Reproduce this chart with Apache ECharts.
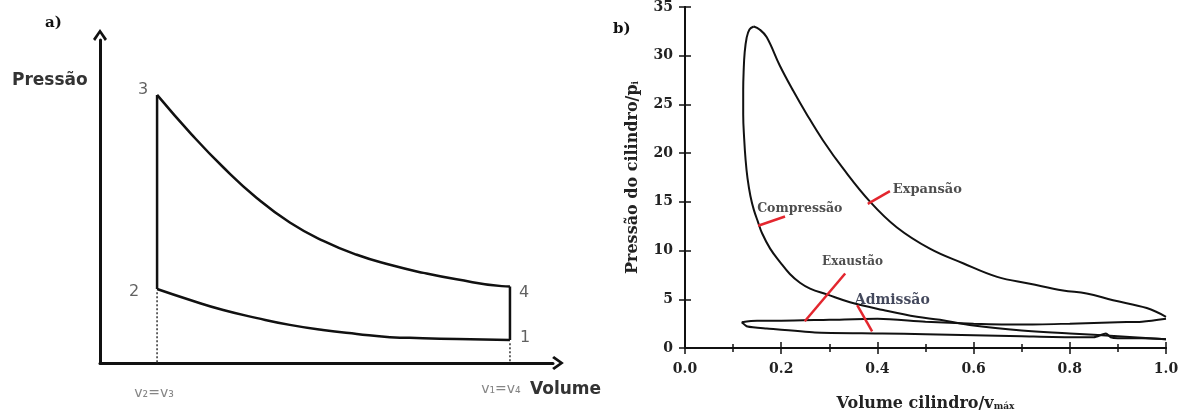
<!DOCTYPE html>
<html lang="pt">
<head>
<meta charset="UTF-8">
<title>Ciclo Otto</title>
<style>
  html, body { margin: 0; padding: 0; background: #fff; }
  #chart { width: 1189px; height: 417px; }
</style>
</head>
<body>
<div id="chart"></div>
<script src="https://cdn.jsdelivr.net/npm/echarts@6/dist/echarts.min.js"></script>
<script>
// ---- a) ideal cycle (arbitrary units, 0-100 on both axes)
var idealExpV = [12.6, 20.2, 27.2, 34.6, 41.9, 49.3, 56.7, 64.0, 71.4, 78.7, 88.7, 90.5];
var idealExpP = [83.0, 70.8, 60.6, 51.1, 43.5, 37.8, 33.5, 30.4, 27.9, 25.9, 23.8, 23.7];
var idealCompV = [12.6, 19.9, 27.2, 34.7, 41.9, 49.2, 56.7, 64.0, 71.3, 78.8, 90.5];
var idealCompP = [22.9, 19.5, 16.4, 13.9, 11.8, 10.2, 9.0, 8.0, 7.7, 7.4, 7.1];
var cornerNames = ['1', '2', '3', '4'];
var cornerV = [90.5, 12.6, 12.6, 90.5];
var cornerP = [7.1, 22.9, 83.0, 23.7];
var volNames = ['v\u2082=v\u2083', 'v\u2081=v\u2084'];
var volV = [12.6, 90.5];

// ---- b) measured cycle (v / vmax, p / pi)
var expV = [0.143, 0.155, 0.170, 0.197, 0.225, 0.253, 0.287, 0.329, 0.385, 0.44, 0.509, 0.578, 0.649, 0.717, 0.786, 0.835, 0.89, 0.96, 1.0];
var expP = [33.0, 32.7, 31.9, 29.0, 26.4, 24.0, 21.3, 18.4, 15.0, 12.4, 10.2, 8.7, 7.3, 6.6, 5.9, 5.6, 4.9, 4.1, 3.2];
var exhV = [1.0, 0.95, 0.9, 0.8, 0.7, 0.6, 0.5, 0.4, 0.3, 0.2, 0.15, 0.118];
var exhP = [3.0, 2.7, 2.65, 2.5, 2.4, 2.5, 2.7, 3.0, 2.9, 2.8, 2.8, 2.65];
var admV = [0.118, 0.13, 0.17, 0.27, 0.41, 0.5, 0.6, 0.7, 0.8, 0.85, 0.875, 0.885, 0.9, 0.95, 1.0];
var admP = [2.65, 2.2, 2.0, 1.6, 1.5, 1.4, 1.3, 1.2, 1.1, 1.1, 1.5, 1.1, 1.0, 1.0, 0.9];
var compV = [1.0, 0.9, 0.8, 0.7, 0.6, 0.53, 0.482, 0.412, 0.343, 0.295, 0.26, 0.239, 0.218, 0.198, 0.177, 0.16, 0.152, 0.143, 0.136, 0.13, 0.126, 0.123, 0.121, 0.121, 0.122, 0.124, 0.128, 0.134, 0.143];
var compP = [0.9, 1.2, 1.5, 1.8, 2.3, 2.9, 3.2, 3.9, 4.7, 5.5, 6.1, 6.7, 7.6, 8.8, 10.2, 11.8, 12.9, 14.2, 15.6, 17.4, 19.3, 21.5, 24.0, 26.5, 28.5, 30.3, 31.8, 32.7, 33.0];

var noteNames = ['Compress\u00e3o', 'Expans\u00e3o', 'Exaust\u00e3o', 'Admiss\u00e3o'];
var noteV = [0.150, 0.432, 0.285, 0.353];
var noteP = [14.3, 16.3, 8.8, 4.9];
var leaderFrom = [[0.152, 12.55], [0.380, 14.8], [0.249, 2.75], [0.358, 4.4]];
var leaderTo = [[0.208, 13.5], [0.426, 16.1], [0.333, 7.65], [0.389, 1.7]];

function zip(a, b) {
    return a.map(function (v, i) { return [v, b[i]]; });
}

var serif = 'DejaVu Serif';
var chevron = 'path://M5,0 L10,7 L8.5,8.4 L5,3.2 L1.5,8.4 L0,7 Z';

var chart = echarts.init(document.getElementById('chart'));

var lineA = { color: '#111', width: 2.5 };
var lineB = { color: '#111', width: 2 };
var dashA = { color: '#555', width: 1.8, type: [2, 2] };

var bAxisLine = { show: true, lineStyle: { color: '#111', width: 2 } };
var bTick = { inside: true, length: 6, lineStyle: { color: '#111', width: 1.5 } };
var bMinor = { show: true, splitNumber: 2, length: 4, lineStyle: { color: '#111', width: 1.5 } };

option = {
    animation: false,
    backgroundColor: '#fff',
    grid: [
        { left: 100, top: 40, width: 453, height: 323 },
        { left: 685, top: 5, width: 481, height: 343 }
    ],
    xAxis: [
        {
            gridIndex: 0, type: 'value', min: 0, max: 100,
            axisLine: { show: true, symbol: ['none', chevron], symbolSize: [14, 12], symbolOffset: [0, 5], lineStyle: { color: '#111', width: 3 } },
            axisTick: { show: false }, axisLabel: { show: false }, splitLine: { show: false }
        },
        {
            gridIndex: 1, type: 'value', min: 0, max: 1, interval: 0.2,
            axisLine: bAxisLine, axisTick: bTick, minorTick: bMinor,
            axisLabel: {
                margin: 14, color: '#222', fontFamily: serif, fontWeight: 'bold', fontSize: 14,
                formatter: function (v) { return v.toFixed(1); }
            },
            splitLine: { show: false },
            name: 'Volume cilindro/v{s|m\u00e1x}',
            nameLocation: 'middle', nameGap: 48,
            nameTextStyle: {
                color: '#222', fontFamily: serif, fontWeight: 'bold', fontSize: 16,
                rich: { s: { fontFamily: serif, fontWeight: 'bold', fontSize: 9, color: '#222', padding: [6, 0, 0, 0] } }
            }
        },
        {
            gridIndex: 1, type: 'value', min: 0, max: 1, interval: 0.2, position: 'top',
            axisLine: bAxisLine, axisTick: bTick, minorTick: bMinor,
            axisLabel: { show: false }, splitLine: { show: false }
        }
    ],
    yAxis: [
        {
            gridIndex: 0, type: 'value', min: 0, max: 100,
            axisLine: { show: true, symbol: ['none', chevron], symbolSize: [14, 12], symbolOffset: [0, 5], lineStyle: { color: '#111', width: 3 } },
            axisTick: { show: false }, axisLabel: { show: false }, splitLine: { show: false }
        },
        {
            gridIndex: 1, type: 'value', min: 0, max: 35, interval: 5,
            axisLine: bAxisLine, axisTick: bTick,
            axisLabel: { margin: 12, color: '#222', fontFamily: serif, fontWeight: 'bold', fontSize: 14 },
            splitLine: { show: false },
            name: 'Press\u00e3o do cilindro/p{s|i}',
            nameLocation: 'middle', nameGap: 44,
            nameTextStyle: {
                color: '#222', fontFamily: serif, fontWeight: 'bold', fontSize: 16,
                rich: { s: { fontFamily: serif, fontWeight: 'bold', fontSize: 9, color: '#222', padding: [6, 0, 0, 0] } }
            }
        },
        {
            gridIndex: 1, type: 'value', min: 0, max: 35, interval: 5, position: 'right',
            axisLine: bAxisLine, axisTick: bTick,
            axisLabel: { show: false }, splitLine: { show: false }
        }
    ],
    series: [
        // a)
        { type: 'line', xAxisIndex: 0, yAxisIndex: 0, data: zip(idealExpV, idealExpP), smooth: 0.5, showSymbol: false, lineStyle: lineA },
        { type: 'line', xAxisIndex: 0, yAxisIndex: 0, data: zip(idealCompV, idealCompP), smooth: 0.5, showSymbol: false, lineStyle: lineA },
        { type: 'line', xAxisIndex: 0, yAxisIndex: 0, data: [[cornerV[1], cornerP[1]], [cornerV[2], cornerP[2]]], showSymbol: false, lineStyle: lineA },
        { type: 'line', xAxisIndex: 0, yAxisIndex: 0, data: [[cornerV[0], cornerP[0]], [cornerV[3], cornerP[3]]], showSymbol: false, lineStyle: lineA },
        { type: 'line', xAxisIndex: 0, yAxisIndex: 0, data: [[cornerV[1], cornerP[1] - 1], [cornerV[1], 0]], showSymbol: false, lineStyle: dashA },
        { type: 'line', xAxisIndex: 0, yAxisIndex: 0, data: [[cornerV[0], cornerP[0] - 1], [cornerV[0], 0]], showSymbol: false, lineStyle: dashA },
        {
            type: 'scatter', xAxisIndex: 0, yAxisIndex: 0, symbolSize: 0, silent: true,
            label: { show: true, formatter: '{b}', color: '#3a3a3a', fontFamily: 'DejaVu Sans', fontSize: 16 },
            data: cornerNames.map(function (n, i) {
                var lab = [
                    { position: 'right', distance: 10, offset: [0, -2] },
                    { position: 'left', distance: 18, offset: [0, 3] },
                    { position: 'left', distance: 9, offset: [0, -5] },
                    { position: 'right', distance: 9, offset: [0, 6] }
                ][i];
                return { name: n, value: [cornerV[i], cornerP[i]], label: lab };
            })
        },
        {
            type: 'scatter', xAxisIndex: 0, yAxisIndex: 0, symbolSize: 0, silent: true,
            label: { show: true, formatter: '{b}', position: 'bottom', color: '#666', fontFamily: 'DejaVu Sans', fontSize: 14 },
            data: volNames.map(function (n, i) {
                var lab = [
                    { distance: 23, offset: [-3, 0] },
                    { distance: 19, offset: [-9, 0] }
                ][i];
                return { name: n, value: [volV[i], 0], label: lab };
            })
        },
        // b)
        { type: 'line', xAxisIndex: 1, yAxisIndex: 1, data: zip(expV, expP), smooth: 0.4, showSymbol: false, lineStyle: lineB },
        { type: 'line', xAxisIndex: 1, yAxisIndex: 1, data: zip(exhV, exhP), smooth: 0.3, showSymbol: false, lineStyle: lineB },
        { type: 'line', xAxisIndex: 1, yAxisIndex: 1, data: zip(admV, admP), smooth: 0.2, showSymbol: false, lineStyle: lineB },
        {
            type: 'line', xAxisIndex: 1, yAxisIndex: 1, data: zip(compV, compP), smooth: 0.4, showSymbol: false, lineStyle: lineB,
            markLine: {
                silent: true, symbol: ['none', 'none'], label: { show: false },
                lineStyle: { color: '#e3262e', width: 2.5, type: 'solid' },
                data: leaderFrom.map(function (f, i) { return [{ coord: f }, { coord: leaderTo[i] }]; })
            }
        },
        {
            type: 'scatter', xAxisIndex: 1, yAxisIndex: 1, symbolSize: 0, silent: true,
            label: { show: true, formatter: '{b}', position: 'right', distance: 0, color: '#222', fontFamily: serif, fontWeight: 'bold', fontSize: 12 },
            data: noteNames.map(function (n, i) {
                var fs = [12.5, 13, 12, 14][i];
                return { name: n, value: [noteV[i], noteP[i]], label: { fontSize: fs, color: i === 3 ? '#141a33' : '#222' } };
            })
        }
    ],
    graphic: [
        { type: 'text', left: 45, top: 16, style: { text: 'a)', font: 'bold 15px "DejaVu Serif"', fill: '#111' } },
        { type: 'text', left: 613, top: 22, style: { text: 'b)', font: 'bold 15px "DejaVu Serif"', fill: '#111' } },
        { type: 'text', left: 12, top: 72, style: { text: 'Press\u00e3o', font: 'bold 17px "DejaVu Sans"', fill: '#333' } },
        { type: 'text', left: 530, top: 381, style: { text: 'Volume', font: 'bold 17px "DejaVu Sans"', fill: '#333' } }
    ]
};

chart.setOption(option);
</script>
</body>
</html>
